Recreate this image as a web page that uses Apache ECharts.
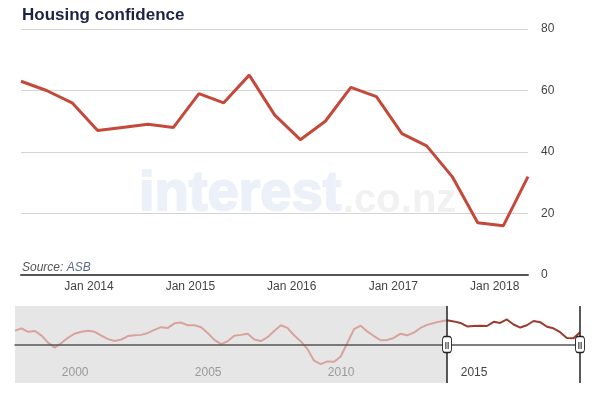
<!DOCTYPE html>
<html>
<head>
<meta charset="utf-8">
<script src="https://cdn.jsdelivr.net/npm/echarts@6/dist/echarts.min.js"></script>
<style>
html, body { margin: 0; padding: 0; background: #fff; }
#chart { width: 600px; height: 397px; }
</style>
</head>
<body>
<div id="chart"></div>
<script>
// quarterly survey readings, the first one is Feb 1997
var firstMonth = [1997, 1];
// Feb 1997 .. Feb 2013 (only shown in the navigator)
var earlyValues = [36, 42, 33, 35, 23, 5, -8, 4, 18, 28,
  33, 36, 33, 23, 14, 9, 13, 22, 24, 25,
  30, 38, 45, 43, 55, 57, 50, 50, 45, 30,
  12, 1, 9, 23, 25, 28, 13, 9, 19, 35,
  50, 43, 24, 8, -12, -42, -51, -44, -45, -31,
  4, 40, 49, 34, 22, 11, 12, 17, 28, 24,
  31, 43, 51, 56, 60];
// May 2013 .. May 2018 (the zoomed window)
var recentValues = [63, 60, 56, 47, 48, 49, 48, 59, 56, 65,
  52, 44, 50, 61, 58, 46, 42, 32, 17, 16, 32];
var mainTickYears = [2014, 2015, 2016, 2017, 2018];
var navTickYears = [2000, 2005, 2010, 2015];

function quarter(i) {
  return new Date(firstMonth[0], firstMonth[1] + 3 * i, 1).getTime();
}
function jan(y) {
  return new Date(y, 0, 1).getTime();
}

var earlyData = earlyValues.map(function (v, i) { return [quarter(i), v]; });
var recentData = recentValues.map(function (v, i) { return [quarter(earlyValues.length + i), v]; });
var winStart = recentData[0][0];
var winEnd = recentData[recentData.length - 1][0];

var font = 'Liberation Sans, Arial, sans-serif';
var myChart = echarts.init(document.getElementById('chart'));

var option = {
  animation: false,
  backgroundColor: '#fff',
  title: {
    text: 'Housing confidence',
    left: 17,
    top: 2,
    textStyle: { fontFamily: font, fontSize: 17, fontWeight: 'bold', color: '#1e2245' }
  },
  graphic: [
    {
      type: 'group',
      left: 138,
      top: 166,
      z: -1,
      children: [
        { type: 'text', x: 0, y: 0, style: { text: 'interest', fontFamily: font, fontSize: 56, fontWeight: 'bold', fill: '#ecf1f9', stroke: '#ecf1f9', lineWidth: 2 } },
        { type: 'text', x: 204, y: 14, style: { text: '.co.nz', fontFamily: font, fontSize: 40, fontWeight: 'bold', fill: '#f1f1f2' } }
      ]
    },
    {
      type: 'text',
      left: 22,
      top: 262,
      style: {
        text: '{a|Source: }{b|ASB}',
        rich: {
          a: { fontFamily: font, fontSize: 12, fontStyle: 'italic', fill: '#555' },
          b: { fontFamily: font, fontSize: 12, fontStyle: 'italic', fill: '#5b6a8c' }
        }
      }
    }
  ],
  grid: [
    { left: 21, right: 72, top: 29, bottom: 122, outerBoundsMode: 'none' },
    { left: 15, right: 20, top: 306, height: 77, outerBoundsMode: 'none' }
  ],
  xAxis: [
    {
      type: 'value',
      gridIndex: 0,
      min: winStart,
      max: winEnd,
      axisLine: { show: true, lineStyle: { color: '#555', width: 2 } },
      axisTick: { show: false },
      splitLine: { show: false },
      axisLabel: {
        customValues: mainTickYears.map(jan),
        formatter: function (v) { return 'Jan ' + new Date(v).getFullYear(); },
        fontFamily: font, fontSize: 12, color: '#444', margin: 6
      }
    },
    {
      type: 'value',
      gridIndex: 1,
      min: quarter(0),
      max: winEnd,
      z: 3,
      axisLine: { show: true, onZero: true, lineStyle: { color: '#555', width: 1.5 } },
      axisTick: { show: false },
      splitLine: { show: false },
      axisLabel: {
        customValues: navTickYears.map(jan),
        formatter: function (v) {
          var y = new Date(v).getFullYear();
          return (v >= winStart ? '{on|' : '{off|') + y + '}';
        },
        inside: true,
        align: 'right',
        margin: 4,
        rich: {
          on: { fontFamily: font, fontSize: 12, color: '#444', padding: [0, 4, 0, 0] },
          off: { fontFamily: font, fontSize: 12, color: '#999', padding: [0, 4, 0, 0] }
        }
      }
    }
  ],
  yAxis: [
    {
      type: 'value',
      gridIndex: 0,
      position: 'right',
      min: 0,
      max: 80,
      interval: 20,
      axisLine: { show: false },
      axisTick: { show: false },
      splitLine: { lineStyle: { color: '#d4d4d4', width: 1 } },
      axisLabel: { fontFamily: font, fontSize: 12, color: '#444', margin: 13 }
    },
    {
      type: 'value',
      gridIndex: 1,
      min: -100,
      max: 100,
      show: false
    }
  ],
  series: [
    {
      name: 'Housing confidence',
      type: 'line',
      xAxisIndex: 0,
      yAxisIndex: 0,
      data: recentData,
      showSymbol: false,
      lineStyle: { color: '#c4493b', width: 3 },
      z: 3
    },
    {
      // grey shade for the part outside the window
      type: 'line',
      xAxisIndex: 1,
      yAxisIndex: 1,
      data: [],
      z: 1,
      markArea: {
        silent: true,
        itemStyle: { color: '#e6e6e6' },
        data: [[{ xAxis: quarter(0) }, { xAxis: winStart }]]
      }
    },
    {
      type: 'line',
      xAxisIndex: 1,
      yAxisIndex: 1,
      data: earlyData.concat([recentData[0]]),
      showSymbol: false,
      lineStyle: { color: '#d8a39c', width: 2 },
      z: 2
    },
    {
      type: 'line',
      xAxisIndex: 1,
      yAxisIndex: 1,
      data: recentData,
      showSymbol: false,
      lineStyle: { color: '#9c3a30', width: 2 },
      z: 2,
      markLine: {
        silent: true,
        symbol: 'none',
        label: { show: false },
        lineStyle: { color: '#222', width: 1.5, type: 'solid' },
        data: [{ xAxis: winStart }, { xAxis: winEnd }]
      }
    },
    {
      // handle grips
      type: 'scatter',
      xAxisIndex: 1,
      yAxisIndex: 1,
      data: [[winStart, 0], [winEnd, 0]],
      symbol: 'roundRect',
      symbolSize: [9, 16],
      itemStyle: { color: '#fff', borderColor: '#222', borderWidth: 1.2, opacity: 1 },
      label: {
        show: true,
        position: 'inside',
        formatter: '||',
        fontFamily: font,
        fontSize: 8,
        fontWeight: 'bold',
        color: '#222'
      },
      z: 5
    }
  ]
};

myChart.setOption(option);
</script>
</body>
</html>
